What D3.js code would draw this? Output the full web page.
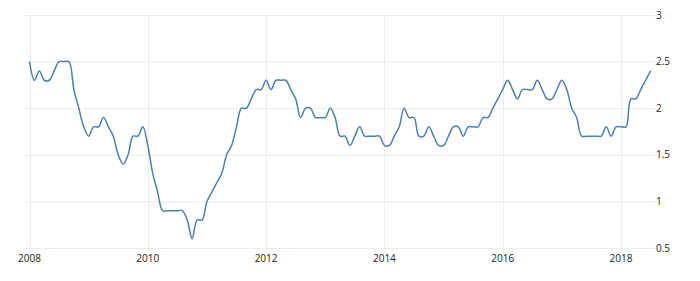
<!DOCTYPE html>
<html>
<head>
<meta charset="utf-8">
<script src="https://d3js.org/d3.v7.min.js"></script>
<style>
  html, body { margin: 0; padding: 0; background: #fff; }
  svg { display: block; }
  text { font-family: "Open Sans", "DejaVu Sans", sans-serif; font-size: 10px; fill: #222; }
</style>
</head>
<body>
<svg id="chart" width="700" height="281"></svg>
<script>
// Monthly values, Jan 2008 .. Jul 2018
const startYear = 2008;
const values = [
  // 2008
  2.5, 2.3, 2.4, 2.3, 2.3, 2.4, 2.5, 2.5, 2.5, 2.2, 2.0, 1.8,
  // 2009
  1.7, 1.8, 1.8, 1.9, 1.8, 1.7, 1.5, 1.4, 1.5, 1.7, 1.7, 1.8,
  // 2010
  1.6, 1.3, 1.1, 0.9, 0.9, 0.9, 0.9, 0.9, 0.8, 0.6, 0.8, 0.8,
  // 2011
  1.0, 1.1, 1.2, 1.3, 1.5, 1.6, 1.8, 2.0, 2.0, 2.1, 2.2, 2.2,
  // 2012
  2.3, 2.2, 2.3, 2.3, 2.3, 2.2, 2.1, 1.9, 2.0, 2.0, 1.9, 1.9,
  // 2013
  1.9, 2.0, 1.9, 1.7, 1.7, 1.6, 1.7, 1.8, 1.7, 1.7, 1.7, 1.7,
  // 2014
  1.6, 1.6, 1.7, 1.8, 2.0, 1.9, 1.9, 1.7, 1.7, 1.8, 1.7, 1.6,
  // 2015
  1.6, 1.7, 1.8, 1.8, 1.7, 1.8, 1.8, 1.8, 1.9, 1.9, 2.0, 2.1,
  // 2016
  2.2, 2.3, 2.2, 2.1, 2.2, 2.2, 2.2, 2.3, 2.2, 2.1, 2.1, 2.2,
  // 2017
  2.3, 2.2, 2.0, 1.9, 1.7, 1.7, 1.7, 1.7, 1.7, 1.8, 1.7, 1.8,
  // 2018
  1.8, 1.8, 2.1, 2.1, 2.2, 2.3, 2.4
];
const xTickYears = [2008, 2010, 2012, 2014, 2016, 2018];
const yTicks = [0.5, 1, 1.5, 2, 2.5, 3];

const data = values.map((v, i) => ({ t: startYear + i / 12, v }));

const svg = d3.select("#chart");
const plotLeft = 25, plotRight = 652, plotTop = 15, plotBottom = 248;

const x = d3.scaleLinear().domain([2008, 2018]).range([29.5, 621]);
const y = d3.scaleLinear().domain([0.5, 3]).range([plotBottom, plotTop]);

// horizontal gridlines
svg.append("g").selectAll("line").data(yTicks).join("line")
  .attr("x1", plotLeft).attr("x2", plotRight + 3)
  .attr("y1", d => y(d) + 0.5).attr("y2", d => y(d) + 0.5)
  .attr("stroke", "#ececec").attr("stroke-width", 1);

// vertical gridlines
svg.append("g").selectAll("line").data(xTickYears).join("line")
  .attr("x1", d => Math.round(x(d)) + 0.5).attr("x2", d => Math.round(x(d)) + 0.5)
  .attr("y1", plotTop).attr("y2", plotBottom + 4)
  .attr("stroke", "#ececec").attr("stroke-width", 1);

// y labels (right)
svg.append("g").selectAll("text").data(yTicks).join("text")
  .attr("x", 656).attr("y", d => y(d) + 3.5)
  .text(d => d3.format("~g")(d));

// x labels
svg.append("g").selectAll("text").data(xTickYears).join("text")
  .attr("x", d => x(d)).attr("y", 262)
  .attr("text-anchor", "middle")
  .text(d => d);

// line
const line = d3.line()
  .x(d => x(d.t))
  .y(d => y(d.v))
  .curve(d3.curveCatmullRom.alpha(0.5));

svg.append("path")
  .datum(data)
  .attr("d", line)
  .attr("fill", "none")
  .attr("stroke", "#4a80b3")
  .attr("stroke-width", 1.5)
  .attr("stroke-linejoin", "round");
</script>
</body>
</html>
